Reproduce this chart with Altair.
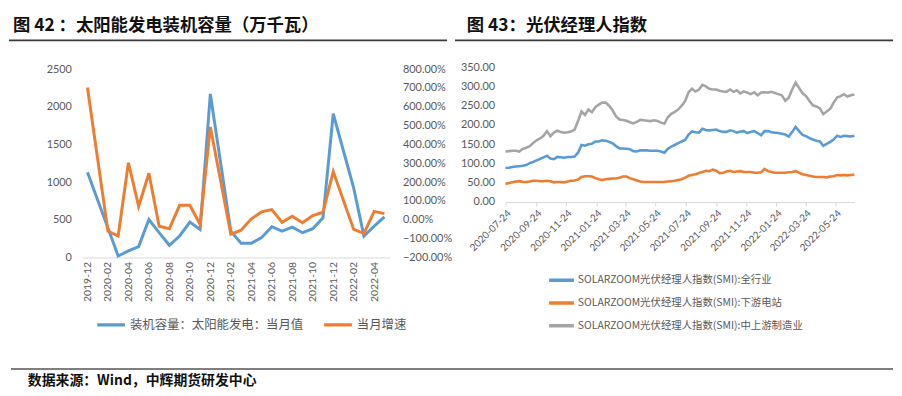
import altair as alt
import pandas as pd

BLUE = "#5B9BD5"
ORANGE = "#ED7D31"
GRAY = "#A5A5A5"
LABEL = "#595959"
NUM_FONT = "Lato, Noto Sans CJK SC, sans-serif"
CJK_FONT = "Noto Sans CJK SC, sans-serif"

# ---------------- left panel data ----------------
months = [
    "2019-12", "2020-01", "2020-02", "2020-03", "2020-04", "2020-05", "2020-06",
    "2020-07", "2020-08", "2020-09", "2020-10", "2020-11", "2020-12", "2021-01",
    "2021-02", "2021-03", "2021-04", "2021-05", "2021-06", "2021-07", "2021-08",
    "2021-09", "2021-10", "2021-11", "2021-12", "2022-01", "2022-02", "2022-03",
    "2022-04", "2022-05",
]
month_labels = [
    "2019-12", "2020-02", "2020-04", "2020-06", "2020-08", "2020-10", "2020-12",
    "2021-02", "2021-04", "2021-06", "2021-08", "2021-10", "2021-12", "2022-02",
    "2022-04",
]
capacity = [
    1130, None, 390, 20, 87, 145, 504, 330, 162, 285, 469, 372, 2171, None,
    350, 190, 190, 263, 408, 350, 403, 329, 382, 526, 1908, None, 921, 285,
    416, 539,
]
growth = [
    703, None, -60, -86, 303, 72, 247, -34, -47, 77, 77, -25, 493, None,
    -77, -55, 5, 42, 54, -13, 19, -16, 23, 40, 256, None, -51, -72, 45, 33,
]
cap_name = "装机容量：太阳能发电：当月值"
gr_name = "当月增速"
left_ticks = [0, 500, 1000, 1500, 2000, 2500]
right_ticks = [-200, -100, 0, 100, 200, 300, 400, 500, 600, 700, 800]

# ---------------- right panel data ----------------
week_dates = pd.date_range("2020-07-24", periods=102, freq="7D").strftime("%Y-%m-%d").tolist()
smi_all = [
    88, 89, 91, 92, 93, 94, 96, 101, 104, 108, 112, 116, 120, 113, 111, 117, 116, 115, 117, 117,
    118, 128, 148, 146, 150, 151, 157, 157, 160, 159, 156, 152, 145, 139, 139, 138, 137, 132, 131, 134,
    134, 134, 133, 133, 133, 131, 128, 138, 144, 148, 153, 157, 161, 175, 183, 181, 180, 190, 187, 186,
    187, 188, 184, 182, 182, 186, 184, 180, 183, 184, 179, 182, 184, 179, 173, 184, 184, 181, 180, 179,
    177, 175, 170, 182, 195, 184, 174, 171, 166, 162, 159, 157, 146, 151, 156, 162, 172, 169, 172, 171,
    170, 172,
]
smi_down = [
    47, 49, 51, 53, 54, 52, 52, 53, 55, 55, 54, 54, 55, 54, 51, 52, 52, 51, 53, 55,
    56, 58, 65, 67, 67, 66, 62, 59, 57, 59, 60, 61, 61, 63, 66, 66, 62, 59, 56, 53,
    52, 52, 52, 52, 52, 52, 52, 53, 54, 55, 57, 59, 63, 68, 70, 72, 75, 78, 81, 80,
    84, 81, 75, 76, 79, 81, 78, 79, 80, 78, 78, 78, 76, 76, 77, 86, 80, 78, 76, 76,
    76, 76, 77, 78, 80, 76, 72, 70, 68, 66, 65, 65, 65, 64, 66, 67, 70, 69, 70, 69,
    70, 71,
]
smi_up = [
    131, 132, 133, 133, 131, 138, 141, 145, 153, 160, 165, 172, 184, 171, 180, 185, 182, 180, 181, 183,
    188, 210, 235, 226, 240, 233, 246, 253, 258, 258, 250, 238, 222, 214, 213, 211, 207, 204, 208, 213,
    212, 211, 210, 212, 210, 206, 203, 220, 229, 234, 240, 250, 262, 285, 294, 287, 292, 304, 300, 294,
    292, 292, 289, 287, 286, 292, 286, 290, 282, 287, 284, 280, 285, 277, 284, 285, 284, 286, 283, 280,
    277, 263, 271, 292, 310, 296, 282, 275, 262, 251, 248, 243, 228, 235, 242, 258, 271, 275, 280, 274,
    277, 279,
]
smi_names = [
    "SOLARZOOM光伏经理人指数(SMI):全行业",
    "SOLARZOOM光伏经理人指数(SMI):下游电站",
    "SOLARZOOM光伏经理人指数(SMI):中上游制造业",
]
date_ticks = [
    (2020, 7), (2020, 9), (2020, 11), (2021, 1), (2021, 3), (2021, 5),
    (2021, 7), (2021, 9), (2021, 11), (2022, 1), (2022, 3), (2022, 5),
]
smi_ticks = [0, 50, 100, 150, 200, 250, 300, 350]

# ---------------- left panel ----------------
left_df = pd.DataFrame({"month": months, "cap": capacity, "growth": growth})
cap_df = left_df.dropna(subset=["cap"]).assign(series=cap_name)
gr_df = left_df.dropna(subset=["growth"]).assign(series=gr_name)

left_color = alt.Scale(domain=[cap_name, gr_name], range=[BLUE, ORANGE])
left_legend = alt.Legend(
    orient="none", legendX=13, legendY=253, direction="horizontal", title=None,
    symbolType="stroke", symbolSize=784, symbolStrokeWidth=3.5, clipHeight=14,
    labelFont=CJK_FONT, labelFontSize=12.5, labelColor=LABEL, columnPadding=18, labelOffset=3,
    labelLimit=400,
)
x_left = alt.X(
    "month:O",
    scale=alt.Scale(domain=months, type="point", padding=0.5),
    axis=alt.Axis(
        values=month_labels, labelAngle=-90, ticks=False, domainColor="#D9D9D9",
        labelFont=NUM_FONT, labelFontSize=10.5, labelColor=LABEL, labelPadding=4, title=None,
    ),
)
cap_line = alt.Chart(cap_df).mark_line(strokeWidth=3).encode(
    x=x_left,
    y=alt.Y(
        "cap:Q",
        scale=alt.Scale(domain=[0, 2526.3], nice=False, zero=False),
        axis=alt.Axis(
            values=left_ticks, format="d", grid=False, domain=False, ticks=False, title=None,
            labelFont=NUM_FONT, labelFontSize=11, labelColor=LABEL, labelPadding=11,
        ),
    ),
    color=alt.Color("series:N", scale=left_color, legend=left_legend),
)
gr_line = alt.Chart(gr_df).mark_line(strokeWidth=3).encode(
    x=x_left,
    y=alt.Y(
        "growth:Q",
        scale=alt.Scale(domain=[-200, 810.5], nice=False, zero=False),
        axis=alt.Axis(
            orient="right", values=right_ticks, grid=False, domain=False, ticks=False, title=None,
            labelExpr="format(datum.value, '.2f') + '%'",
            labelFont=NUM_FONT, labelFontSize=11, labelColor=LABEL, labelPadding=13,
        ),
    ),
    color=alt.Color("series:N", scale=left_color, legend=left_legend),
)

one = pd.DataFrame({"k": [0]})
left_title = alt.Chart(one).mark_text(
    align="left", baseline="top", font=CJK_FONT, fontSize=17.5, fontWeight="bold", color="#111111"
).encode(x=alt.value(-70), y=alt.value(-51), text=alt.value("图 42 ：太阳能发电装机容量（万千瓦）"))
left_rule = alt.Chart(one).mark_rule(color="#3a3a3a", strokeWidth=1.8).encode(
    x=alt.value(-74), x2=alt.value(368), y=alt.value(-27)
)
footer_rule = alt.Chart(one).mark_rule(color="#7f7f7f", strokeWidth=2).encode(
    x=alt.value(-72), x2=alt.value(818), y=alt.value(304.5)
)
footer_text = alt.Chart(one).mark_text(
    align="left", baseline="middle", font=CJK_FONT, fontSize=14, fontWeight="bold", color="#111111"
).encode(x=alt.value(-55), y=alt.value(316.5), text=alt.value("数据来源：Wind，中辉期货研发中心"))

left = alt.layer(
    cap_line, gr_line, left_title, left_rule, footer_rule, footer_text
).resolve_scale(y="independent").properties(width=310, height=192)

# ---------------- right panel ----------------
smi_df = pd.concat([
    pd.DataFrame({"date": week_dates, "value": smi_all, "series": smi_names[0]}),
    pd.DataFrame({"date": week_dates, "value": smi_down, "series": smi_names[1]}),
    pd.DataFrame({"date": week_dates, "value": smi_up, "series": smi_names[2]}),
])
smi_lines = alt.Chart(smi_df).mark_line(strokeWidth=2.6).encode(
    x=alt.X(
        "date:T",
        scale=alt.Scale(
            type="utc", nice=False,
            domain=[alt.DateTime(year=2020, month=7, date=24, utc=True),
                    alt.DateTime(year=2022, month=7, date=1, utc=True)],
        ),
        axis=alt.Axis(
            values=[alt.DateTime(year=y, month=m, date=24, utc=True) for y, m in date_ticks],
            labelExpr="utcFormat(datum.value, '%Y-%m-%d')", labelAngle=-45, grid=False, title=None,
            labelOverlap=False, labelBound=False, labelFlush=False,
            tickSize=4, tickColor="#D9D9D9", domainColor="#D9D9D9",
            labelFont=NUM_FONT, labelFontSize=10, labelColor=LABEL, labelPadding=2,
        ),
    ),
    y=alt.Y(
        "value:Q",
        scale=alt.Scale(domain=[0, 350], nice=False),
        axis=alt.Axis(
            values=smi_ticks, format=".2f", grid=False, domain=False, ticks=False, title=None,
            labelFont=NUM_FONT, labelFontSize=11, labelColor=LABEL, labelPadding=11,
        ),
    ),
    color=alt.Color(
        "series:N",
        scale=alt.Scale(domain=smi_names, range=[BLUE, ORANGE, GRAY]),
        sort=smi_names,
        legend=alt.Legend(
            orient="none", legendX=42, legendY=208, direction="vertical", title=None,
            symbolType="stroke", symbolSize=625, symbolStrokeWidth=3.5, clipHeight=14,
            labelFont=CJK_FONT, labelFontSize=10.5, labelColor=LABEL, rowPadding=9, labelOffset=2,
            labelLimit=400,
        ),
    ),
    order=alt.Order("date:T"),
)
right_title = alt.Chart(one).mark_text(
    align="left", baseline="top", font=CJK_FONT, fontSize=17.5, fontWeight="bold", color="#111111"
).encode(x=alt.value(-39), y=alt.value(-51), text=alt.value("图 43：光伏经理人指数"))
right_rule = alt.Chart(one).mark_rule(color="#3a3a3a", strokeWidth=1.8).encode(
    x=alt.value(-51), x2=alt.value(391), y=alt.value(-27)
)
right = alt.layer(smi_lines, right_title, right_rule).properties(width=352, height=136)

chart = alt.hconcat(left, right, spacing=117, bounds="flush").resolve_scale(
    color="independent", x="independent", y="independent"
).resolve_legend(color="independent").properties(
    padding={"top": 7, "left": 0, "right": 0, "bottom": 0}, background="white"
).configure_view(stroke=None)

chart.save("out.html", embed_options={"renderer": "svg", "actions": False})
